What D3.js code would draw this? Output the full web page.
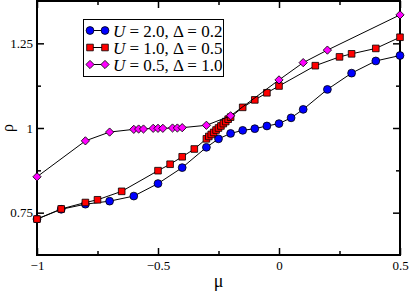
<!DOCTYPE html>
<html>
<head>
<meta charset="utf-8">
<script src="https://cdn.jsdelivr.net/npm/d3@7"></script>
<style>
  body { margin: 0; background: #fff; }
  svg { display: block; }
</style>
</head>
<body>
<div class="canvas"></div>
<script>
// data
const muA = [-1, -0.9, -0.8, -0.7, -0.6, -0.5, -0.4, -0.3, -0.25, -0.2, -0.15, -0.1, -0.05, 0, 0.05, 0.1, 0.2, 0.3, 0.4, 0.5];
const rhoA = [0.731, 0.760, 0.775, 0.784, 0.799, 0.836, 0.883, 0.943, 0.968, 0.984, 0.993, 0.998, 1.006, 1.013, 1.030, 1.055, 1.114, 1.162, 1.198, 1.214];

const muB = [-1, -0.9, -0.8, -0.75, -0.65, -0.5, -0.45, -0.4, -0.35, -0.3, -0.29, -0.28, -0.27, -0.26, -0.25, -0.24, -0.23, -0.22, -0.21, -0.2, -0.15, -0.1, -0.05, 0, 0.15, 0.25, 0.3, 0.4, 0.5];
const rhoB = [0.731, 0.761, 0.780, 0.788, 0.813, 0.874, 0.893, 0.915, 0.938, 0.968, 0.975, 0.981, 0.987, 0.994, 1.000, 1.006, 1.013, 1.019, 1.026, 1.032, 1.061, 1.083, 1.104, 1.124, 1.184, 1.210, 1.219, 1.235, 1.268];

const muC = [-1, -0.8, -0.7, -0.6, -0.58, -0.56, -0.52, -0.5, -0.48, -0.44, -0.42, -0.4, -0.3, -0.2, 0, 0.1, 0.2, 0.5];
const rhoC = [0.856, 0.962, 0.988, 0.996, 0.997, 0.997, 0.999, 0.999, 0.999, 1.000, 1.000, 1.001, 1.008, 1.036, 1.142, 1.193, 1.230, 1.334];

const xTicks = [-1, -0.5, 0, 0.5];
const xMinor = [-0.75, -0.25, 0.25];
const yTicks = [0.75, 1, 1.25];
const yMinor = [0.875, 1.125];

const seriesNames = ["2.0", "1.0", "0.5"];
const deltaNames = ["0.2", "0.5", "1.0"];

const landScape = { width: 409, height: 293 };
const margin = { top: 1, right: 9, bottom: 38, left: 37 };
const graphWidth = landScape.width - margin.left - margin.right;
const graphHeight = landScape.height - margin.top - margin.bottom;
const font = "'Liberation Serif', 'Times New Roman', serif";

const svg = d3.select(".canvas")
  .append("svg")
  .attr("width", landScape.width)
  .attr("height", landScape.height);

const graph = svg.append("g")
  .attr("transform", `translate(${margin.left}, ${margin.top})`);

//scales
const xScale = d3.scaleLinear().domain([-1, 0.5]).range([0, graphWidth]);
const yScale = d3.scaleLinear().domain([0.625, 1.375]).range([graphHeight, 0]);

//axes, ticks pointing inward, mirrored on top and right
const fmt = d => d3.format("")(d);
const xAxisGroup = graph.append("g").attr("transform", `translate(0, ${graphHeight})`)
  .call(d3.axisBottom(xScale).tickValues(xTicks).tickSize(-7).tickFormat(fmt).tickPadding(6));
xAxisGroup.append("g").call(d3.axisBottom(xScale).tickValues(xMinor).tickSize(-4).tickFormat(""));
const yAxisGroup = graph.append("g")
  .call(d3.axisLeft(yScale).tickValues(yTicks).tickSize(-7).tickFormat(fmt).tickPadding(4));
yAxisGroup.append("g").call(d3.axisLeft(yScale).tickValues(yMinor).tickSize(-4).tickFormat(""));
const topAxis = graph.append("g");
topAxis.call(d3.axisTop(xScale).tickValues(xTicks).tickSize(-7).tickFormat(""));
topAxis.append("g").call(d3.axisTop(xScale).tickValues(xMinor).tickSize(-4).tickFormat(""));
const rightAxis = graph.append("g").attr("transform", `translate(${graphWidth}, 0)`);
rightAxis.call(d3.axisRight(yScale).tickValues(yTicks).tickSize(-7).tickFormat(""));
rightAxis.append("g").call(d3.axisRight(yScale).tickValues(yMinor).tickSize(-4).tickFormat(""));

graph.selectAll(".domain").remove();
graph.selectAll(".tick line").attr("stroke", "#000").attr("stroke-width", 1.5);
graph.selectAll(".tick text")
  .attr("font-family", font)
  .attr("font-size", 13)
  .attr("fill", "#000");

graph.append("rect")
  .attr("width", graphWidth)
  .attr("height", graphHeight)
  .attr("fill", "none")
  .attr("stroke", "#000")
  .attr("stroke-width", 2);

//axis titles
svg.append("text")
  .attr("transform", `translate(13, ${margin.top + graphHeight / 2}) rotate(-90)`)
  .attr("text-anchor", "middle")
  .attr("font-family", font)
  .attr("font-size", 16)
  .text("ρ");
svg.append("text")
  .attr("x", margin.left + graphWidth / 2)
  .attr("y", 287)
  .attr("text-anchor", "middle")
  .attr("font-family", font)
  .attr("font-size", 18)
  .text("μ");

//series
const symbols = [d3.symbolCircle, d3.symbolSquare, d3.symbolSquare];
const symbolSizes = [48, 44, 34];
const rotations = [0, 0, 45];
const colors = ["#0000ff", "#ff0000", "#ff00ff"];
const series = [
  muA.map((m, i) => ({ mu: m, rho: rhoA[i] })),
  muB.map((m, i) => ({ mu: m, rho: rhoB[i] })),
  muC.map((m, i) => ({ mu: m, rho: rhoC[i] }))
];

const line = d3.line().x(d => xScale(d.mu)).y(d => yScale(d.rho));

series.forEach((data, k) => {
  graph.append("path")
    .datum(data)
    .attr("d", line)
    .attr("fill", "none")
    .attr("stroke", "#000")
    .attr("stroke-width", 1);
  graph.selectAll(".pt" + k)
    .data(data)
    .enter()
    .append("path")
    .attr("class", "pt" + k)
    .attr("transform", d => `translate(${xScale(d.mu)}, ${yScale(d.rho)}) rotate(${rotations[k]})`)
    .attr("d", d3.symbol().type(symbols[k]).size(symbolSizes[k]))
    .attr("fill", colors[k])
    .attr("stroke", "#000")
    .attr("stroke-width", 0.8);
});

//legend
const legend = svg.append("g");
legend.append("rect")
  .attr("x", 83.5)
  .attr("y", 19.5)
  .attr("width", 140)
  .attr("height", 57)
  .attr("fill", "#fff")
  .attr("stroke", "#000")
  .attr("stroke-width", 1);

seriesNames.forEach((name, k) => {
  const y = 30.5 + k * 17;
  legend.append("line")
    .attr("x1", 90).attr("x2", 105)
    .attr("y1", y).attr("y2", y)
    .attr("stroke", "#000");
  [90, 105].forEach(x => {
    legend.append("path")
      .attr("transform", `translate(${x}, ${y}) rotate(${rotations[k]})`)
      .attr("d", d3.symbol().type(symbols[k]).size(symbolSizes[k]))
      .attr("fill", colors[k])
      .attr("stroke", "#000")
      .attr("stroke-width", 0.8);
  });
  legend.append("text")
    .attr("x", 113)
    .attr("y", y + 6)
    .attr("font-family", font)
    .attr("font-size", 17)
    .html(`<tspan font-style="italic">U</tspan> = ${name}, Δ = ${deltaNames[k]}`);
});
</script>
</body>
</html>
